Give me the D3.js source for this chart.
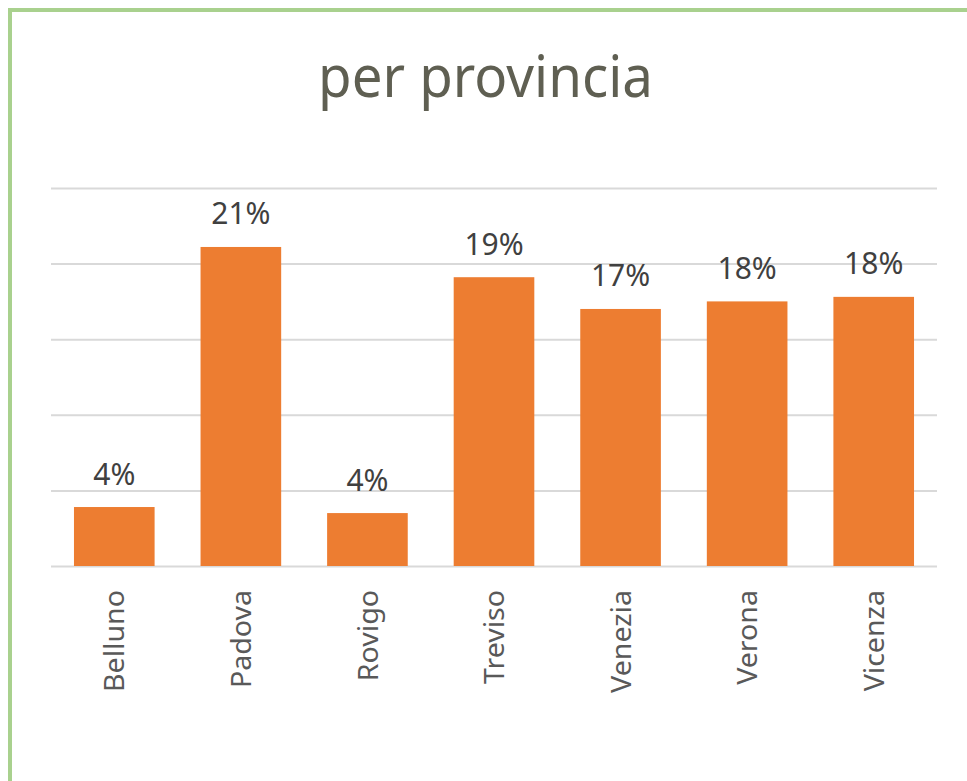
<!DOCTYPE html>
<html>
<head>
<meta charset="utf-8">
<script src="https://cdn.jsdelivr.net/npm/d3@7"></script>
<style>
  html, body { margin: 0; padding: 0; background: #fff; overflow: hidden; }
  text { font-family: 'Noto Sans', 'Open Sans', sans-serif; }
</style>
</head>
<body>
<svg id="canvas" width="967" height="781"></svg>
<script>
var categories = ['Belluno', 'Padova', 'Rovigo', 'Treviso', 'Venezia', 'Verona', 'Vicenza'];
var values = [3.9, 21.1, 3.5, 19.1, 17.0, 17.5, 17.8];
var yTicks = [0, 5, 10, 15, 20, 25];
var title = 'per provincia';

var svg = d3.select('#canvas');

// frame of the chart area, only left and top edges are in view
svg.append('path')
  .attr('d', 'M10,781V10H967')
  .attr('fill', 'none')
  .attr('stroke', '#a9d18e')
  .attr('stroke-width', 4);

var x = d3.scaleBand()
  .domain(categories)
  .range([51, 937])
  .paddingInner(0.363)
  .paddingOuter(0.1815);

var y = d3.scaleLinear()
  .domain([0, 25])
  .range([566, 188]);

// gridlines
svg.append('g')
  .attr('transform', 'translate(51,0)')
  .call(d3.axisLeft(y).tickValues(yTicks).tickSize(-(937 - 51)).tickFormat(''))
  .call(function(g) {
    g.select('.domain').remove();
    g.selectAll('.tick line').attr('stroke', '#d9d9d9').attr('stroke-width', 2);
  });

// bars
svg.append('g')
  .selectAll('rect')
  .data(values)
  .join('rect')
  .attr('x', function(d, i) { return x(categories[i]); })
  .attr('y', function(d) { return y(d); })
  .attr('width', x.bandwidth())
  .attr('height', function(d) { return y(0) - y(d); })
  .attr('fill', '#ed7d31');

// value labels
svg.append('g')
  .selectAll('text')
  .data(values)
  .join('text')
  .attr('x', function(d, i) { return x(categories[i]) + x.bandwidth() / 2; })
  .attr('y', function(d) { return y(d) - 22.5; })
  .attr('text-anchor', 'middle')
  .attr('font-size', 30)
  .attr('fill', '#404040')
  .text(function(d) { return Math.round(d) + '%'; });

// category labels, rotated, fitted to the original length
var labels = svg.append('g')
  .selectAll('text')
  .data(categories)
  .join('text')
  .attr('text-anchor', 'end')
  .attr('dy', '0.36em')
  .attr('font-size', 28)
  .attr('fill', '#595959')
  .text(function(d) { return d; });

var stretch = 102 / labels.nodes()[0].getComputedTextLength();
labels.attr('transform', function(d) {
  return 'translate(' + (x(d) + x.bandwidth() / 2) + ',' + (y(0) + 24) + ')rotate(-90)scale(' + stretch + ',1)';
});

// title
var t = svg.append('text')
  .attr('text-anchor', 'middle')
  .attr('font-size', 59)
  .attr('fill', '#5f5f52')
  .text(title);
var squeeze = 335 / t.node().getComputedTextLength();
t.attr('transform', 'translate(485.5,97)scale(' + squeeze + ',1)');
</script>
</body>
</html>
